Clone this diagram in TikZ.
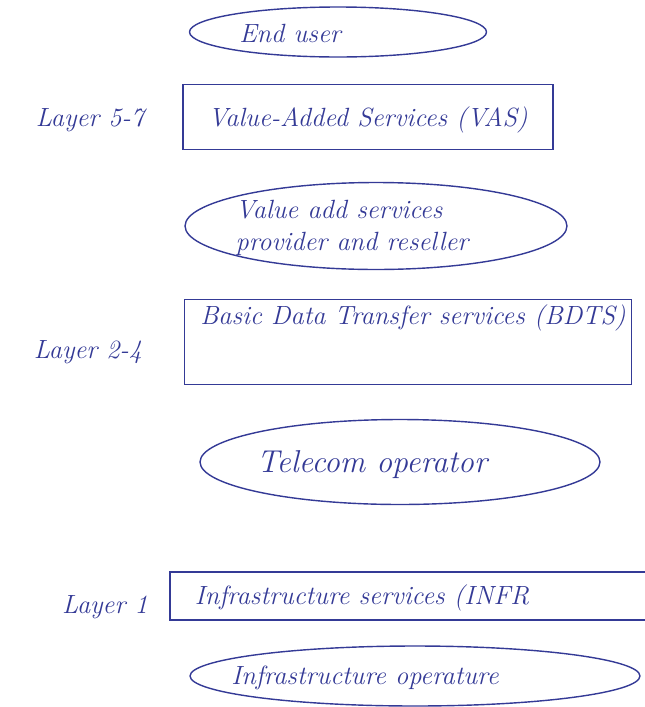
\documentclass[tikz,border=0pt]{standalone}
\usetikzlibrary{shapes.geometric,positioning}
\definecolor{ink}{RGB}{52,58,150}
\tikzset{
  oval/.style={ellipse, draw=ink, thick, inner sep=0pt},
  layerbox/.style={rectangle, draw=ink, thick, inner sep=0pt},
  hand/.style={text=ink, font=\itshape\fontsize{15}{18}\selectfont, inner sep=1pt},
  bighand/.style={hand, font=\itshape\fontsize{18}{21}\selectfont}
}
\begin{document}
\begin{tikzpicture}[x=0.02cm, y=-0.02cm]
\useasboundingbox (0,0) rectangle (645,707);
% top: end user
\node (user) [oval, minimum width=5.94cm, minimum height=1.0cm] at (338,32) {};
\node (usertxt) [hand] at (290,33) {End user};
% layer 5-7
\node (vas) [layerbox, minimum width=7.4cm, minimum height=1.3cm] at (368,117) {};
\node (vastxt) [hand] at (368,120) {Value-Added Services (VAS)};
\node (l57) [hand] at (90,120) {Layer 5-7};
\node (vasp) [oval, minimum width=7.64cm, minimum height=1.74cm] at (376,226) {};
\node (vasptxt) [hand, align=left] at (352,228) {Value add services\\provider and reseller};
% layer 2-4
\node (bdts) [layerbox, minimum width=8.94cm, minimum height=1.7cm] at (408,342) {};
\node (bdtstxt) [hand] at (413,318) {Basic Data Transfer services (BDTS)};
\node (l24) [hand] at (88,352) {Layer 2-4};
\node (telco) [oval, minimum width=8cm, minimum height=1.7cm] at (400,462) {};
\node (telcotxt) [bighand] at (372,465) {Telecom operator};
% layer 1
\node (infr) [layerbox, minimum width=9.8cm, minimum height=0.96cm] at (415,596) {};
\node (infrtxt) [hand] at (362,598) {Infrastructure services (INFR};
\node (l1) [hand] at (105,607) {Layer 1};
\node (infop) [oval, minimum width=9cm, minimum height=1.2cm] at (415,676) {};
\node (infoptxt) [hand] at (365,678) {Infrastructure operature};
\end{tikzpicture}
\end{document}
